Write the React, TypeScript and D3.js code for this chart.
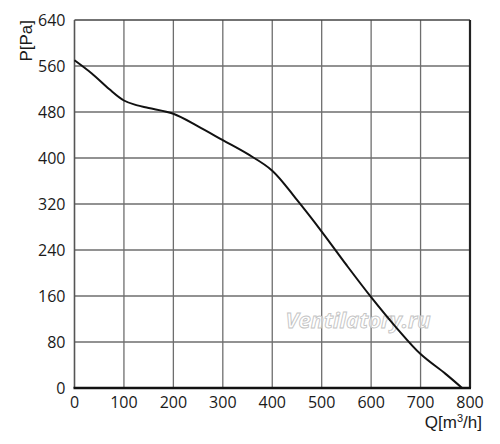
import React, { useRef, useEffect } from "react";
import * as d3 from "d3";

// fan curve
const flow = [0, 35, 70, 100, 125, 150, 200, 250, 300, 350, 400, 450, 500, 550, 600, 650, 700, 750, 784];
const pressure = [570, 547, 520, 500, 492, 487, 477, 455, 431, 407, 378, 327, 272, 214, 158, 106, 59, 25, 0];
const xTicks = [0, 100, 200, 300, 400, 500, 600, 700, 800];
const yTicks = [0, 80, 160, 240, 320, 400, 480, 560, 640];

const width = 500;
const height = 444;
const margin = { top: 20, right: 30, bottom: 56, left: 74.5 };
const font = "'Open Sans', 'Noto Sans', sans-serif";
const titleFont = "'Liberation Sans', Arial, sans-serif";

const App: React.FC = () => {
  const svgRef = useRef<SVGSVGElement | null>(null);

  useEffect(() => {
    const svg = d3.select(svgRef.current);
    svg.selectAll("*").remove();

    const x = d3.scaleLinear().domain([0, 800]).range([margin.left, width - margin.right]);
    const y = d3.scaleLinear().domain([0, 640]).range([height - margin.bottom, margin.top]);

    // grid
    svg
      .append("g")
      .selectAll("line")
      .data(xTicks.slice(1, -1))
      .enter()
      .append("line")
      .attr("x1", (d) => x(d))
      .attr("x2", (d) => x(d))
      .attr("y1", y(0))
      .attr("y2", y(640))
      .attr("stroke", "#6e6e6e")
      .attr("stroke-width", 1.3);

    svg
      .append("g")
      .selectAll("line")
      .data(yTicks.slice(1))
      .enter()
      .append("line")
      .attr("x1", x(0))
      .attr("x2", x(800))
      .attr("y1", (d) => y(d))
      .attr("y2", (d) => y(d))
      .attr("stroke", (d) => (d === 640 ? "#444" : "#6e6e6e"))
      .attr("stroke-width", (d) => (d === 640 ? 1.6 : 1.3));

    // frame
    svg
      .append("line")
      .attr("x1", x(0))
      .attr("x2", x(0))
      .attr("y1", y(0))
      .attr("y2", y(640))
      .attr("stroke", "#555")
      .attr("stroke-width", 1.6);
    svg
      .append("line")
      .attr("x1", x(800))
      .attr("x2", x(800))
      .attr("y1", y(0))
      .attr("y2", y(640))
      .attr("stroke", "#222")
      .attr("stroke-width", 2.2);
    svg
      .append("line")
      .attr("x1", x(0) - 1)
      .attr("x2", x(800) + 1)
      .attr("y1", y(0))
      .attr("y2", y(0))
      .attr("stroke", "#111")
      .attr("stroke-width", 2.4);

    // watermark
    svg
      .append("text")
      .attr("x", 358)
      .attr("y", 328)
      .attr("text-anchor", "middle")
      .style("font-family", font)
      .style("font-style", "italic")
      .style("font-weight", "bold")
      .style("font-size", "22px")
      .style("fill", "#fff")
      .style("fill-opacity", 0.6)
      .style("stroke", "#c4c4c4")
      .style("stroke-width", 0.9)
      .text("Ventilatory.ru");

    // curve
    const line = d3
      .line<number>()
      .x((d) => x(d))
      .y((_, i) => y(pressure[i]))
      .curve(d3.curveCatmullRom.alpha(0.5));

    svg
      .append("path")
      .datum(flow)
      .attr("d", line)
      .attr("fill", "none")
      .attr("stroke", "#111")
      .attr("stroke-width", 2);

    // tick labels
    svg
      .append("g")
      .selectAll("text")
      .data(yTicks)
      .enter()
      .append("text")
      .attr("x", x(0) - 9)
      .attr("y", (d) => y(d) + 5.8)
      .attr("text-anchor", "end")
      .style("font-family", font)
      .style("font-size", "16px")
      .style("fill", "#1a1a1a")
      .text((d) => d);

    svg
      .append("g")
      .selectAll("text")
      .data(xTicks)
      .enter()
      .append("text")
      .attr("x", (d) => x(d))
      .attr("y", y(0) + 20)
      .attr("text-anchor", "middle")
      .style("font-family", font)
      .style("font-size", "16px")
      .style("fill", "#1a1a1a")
      .text((d) => d);

    // axis titles
    const q = svg
      .append("text")
      .attr("x", 482)
      .attr("y", 428)
      .attr("text-anchor", "end")
      .style("font-family", titleFont)
      .style("font-size", "17px")
      .style("fill", "#1a1a1a");
    q.append("tspan").text("Q[m");
    q.append("tspan").attr("dy", -6).style("font-size", "11px").text("3");
    q.append("tspan").attr("dy", 6).text("/h]");

    svg
      .append("text")
      .attr("transform", `translate(32, 20) rotate(-90)`)
      .attr("text-anchor", "end")
      .style("font-family", titleFont)
      .style("font-size", "17px")
      .style("fill", "#1a1a1a")
      .text("P[Pa]");
  }, []);

  return <svg ref={svgRef} width={width} height={height} style={{ display: "block", margin: -8 }} />;
};

export default App;
